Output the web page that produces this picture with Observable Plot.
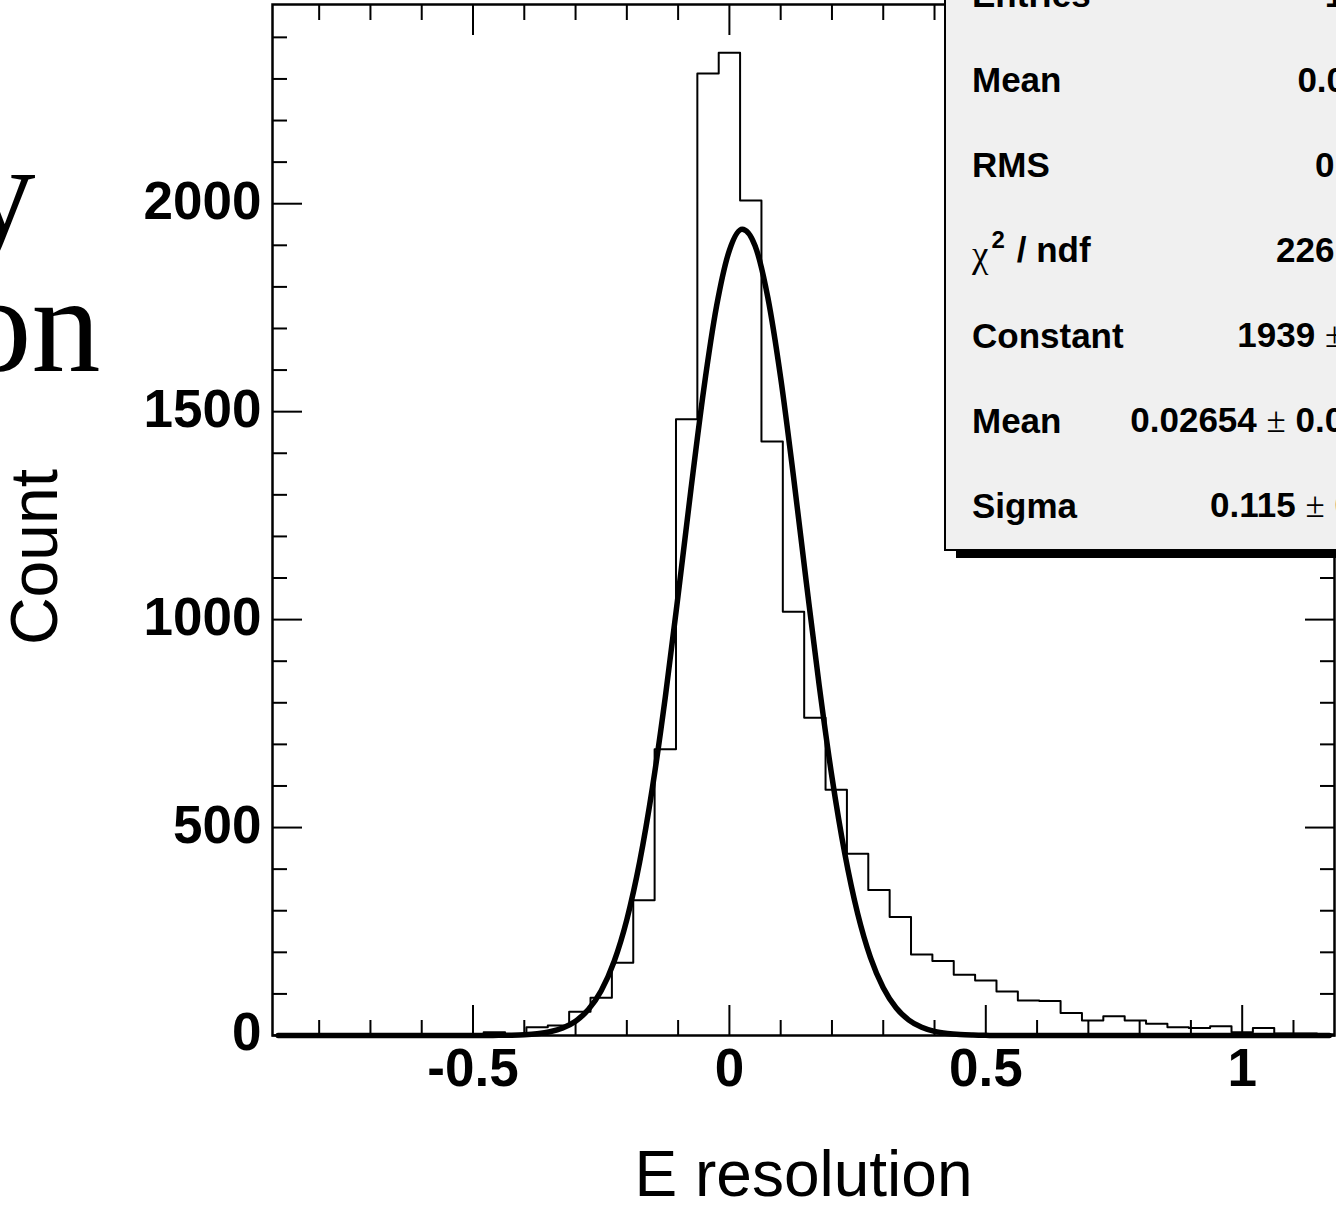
<!DOCTYPE html>
<html>
<head>
<meta charset="utf-8">
<script src="https://cdn.jsdelivr.net/npm/d3@7"></script>
<script src="https://cdn.jsdelivr.net/npm/@observablehq/plot@0.6"></script>
<style>
  html, body { margin: 0; padding: 0; background: #fff; overflow: hidden; }
  #wrap { position: relative; width: 1336px; height: 1205px; overflow: hidden; background: #fff; }
  #chart svg { display: block; }
  #stats {
    position: absolute; left: 944px; top: -47px; width: 492px; height: 598px;
    box-sizing: border-box; background: #f0f0f0; border: 2px solid #000;
    box-shadow: 12px 7px 0 0 #000;
    font-family: "Liberation Sans", Arial, sans-serif; font-weight: bold; font-size: 35px; color: #000;
  }
  .row-label, .row-value { position: absolute; line-height: 1; white-space: nowrap; transform: translateY(-50%); }
  .row-label { left: 26px; }
  .row-value { right: 12px; }
  .pm { font-family: "Liberation Serif", serif; font-weight: normal; }
  .chi { font-family: "Liberation Serif", serif; font-weight: normal; font-size: 37px; position: relative; top: 5px; }
  .sup { font-size: 24px; position: relative; top: -14px; margin-left: 3px; margin-right: 12px; }
</style>
</head>
<body>
<div id="wrap">
  <div id="chart"></div>
  <div id="stats"></div>
</div>
<script>
// ---------------- data ----------------
// histogram counts, bins of width 1/24 starting at lower edge -21.5/24
const binLow = -21.5 / 24;
const binWidth = 1 / 24;
const counts = [
  0, 0, 0, 0, 0, 0, 0, 0, 0, 0,
  8, 1, 20, 24, 57, 91, 175, 325, 688, 1482,
  2313, 2363, 2008, 1428, 1019, 764, 591, 437, 350, 285,
  195, 179, 146, 132, 106, 84, 83, 54, 36, 46,
  36, 28, 20, 18, 22, 8, 18, 5, 5, 3
];

// gaussian fit curve
const fitX = [-0.88, -0.5, -0.475, -0.45, -0.425, -0.4, -0.375, -0.35, -0.325, -0.3, -0.275, -0.25,
  -0.225, -0.2, -0.175, -0.15, -0.125, -0.1, -0.075, -0.05, -0.025, 0, 0.025, 0.05, 0.075, 0.1,
  0.125, 0.15, 0.175, 0.2, 0.225, 0.25, 0.275, 0.3, 0.325, 0.35, 0.375, 0.4, 0.425, 0.45, 0.475,
  0.5, 0.525, 1.17];
const fitY = [0, 0, 0.14, 0.36, 0.87, 2.0, 4.4, 9.1, 18.1, 34.4, 62.3, 107.6,
  177.3, 278.7, 417.5, 596.8, 813.8, 1058.5, 1313.1, 1553.7, 1753.8, 1888.0, 1938.8, 1899.1, 1774.2, 1581.3,
  1343.9, 1089.7, 842.7, 621.6, 437.4, 293.6, 187.9, 114.8, 66.8, 37.1, 19.7, 9.9, 4.8, 2.2, 1.0,
  0.4, 0.15, 0];

// axis ticks
const xDomain = [-0.891, 1.18];
const yDomain = [0, 2479];
const xMajor = [-0.5, 0, 0.5, 1];
const xMinor = [-0.8, -0.7, -0.6, -0.4, -0.3, -0.2, -0.1, 0.1, 0.2, 0.3, 0.4, 0.6, 0.7, 0.8, 0.9, 1.1];
const yMajor = [0, 500, 1000, 1500, 2000];
const yMinor = [100, 200, 300, 400, 600, 700, 800, 900, 1100, 1200, 1300, 1400,
  1600, 1700, 1800, 1900, 2100, 2200, 2300, 2400];

// text
const xTitle = "E resolution";
const yTitle = "Count";
const bigTitle = ["Energy", "resolution"];
const statLabels = ["Entries", "Mean", "RMS", "chi2 / ndf", "Constant", "Mean", "Sigma"];
const statValues = ["15654", "0.07116", "0.1898", "2261 / 47", "1939 ± 18.9", "0.02654 ± 0.00087", "0.115 ± 0.001"];

// ---------------- chart ----------------
const histPts = counts.map((c, i) => ({x: binLow + i * binWidth, y: c}));
histPts.push({x: binLow + counts.length * binWidth, y: counts[counts.length - 1]});
const fitPts = fitX.map((x, i) => ({x, y: fitY[i]}));

const tickStyle = {strokeWidth: 2, fill: "none", label: null};
const bold = {fontSize: 53, fontWeight: "bold", label: null, tickSize: 0};

const plot = Plot.plot({
  width: 1336,
  height: 1205,
  marginLeft: 272,
  marginRight: 2,
  marginTop: 4,
  marginBottom: 170,
  x: {domain: xDomain},
  y: {domain: yDomain},
  style: {fontFamily: "'Liberation Sans', Arial, sans-serif", color: "black", background: "white"},
  marks: [
    Plot.line(histPts, {x: "x", y: "y", curve: "step-after", stroke: "black", strokeWidth: 2, clip: true}),
    // inward ticks on all four sides
    Plot.axisY(yMajor, {anchor: "left", tickSize: -30, ...tickStyle}),
    Plot.axisY(yMinor, {anchor: "left", tickSize: -15, ...tickStyle}),
    Plot.axisY(yMajor, {anchor: "right", tickSize: -30, ...tickStyle}),
    Plot.axisY(yMinor, {anchor: "right", tickSize: -15, ...tickStyle}),
    Plot.axisX(xMajor, {anchor: "bottom", tickSize: -30, ...tickStyle}),
    Plot.axisX(xMinor, {anchor: "bottom", tickSize: -15, ...tickStyle}),
    Plot.axisX(xMajor, {anchor: "top", tickSize: -30, ...tickStyle}),
    Plot.axisX(xMinor, {anchor: "top", tickSize: -15, ...tickStyle}),
    // tick labels
    Plot.axisY(yMajor, {anchor: "left", tickPadding: 11, dy: -2, tickFormat: d => String(d), ...bold}),
    Plot.axisX(xMajor, {anchor: "bottom", tickPadding: 13, tickFormat: d => String(d), ...bold}),
    Plot.frame({stroke: "black", strokeWidth: 2.5}),
    Plot.line(fitPts, {x: "x", y: "y", curve: "monotone-x", stroke: "black", strokeWidth: 5.5, strokeLinejoin: "round"}),
    // axis titles
    Plot.text([xTitle], {frameAnchor: "bottom", textAnchor: "middle", lineAnchor: "bottom", dy: 160, fontSize: 64, text: d => d}),
    Plot.text([yTitle], {frameAnchor: "left", textAnchor: "middle", rotate: -90, lineAnchor: "bottom", dx: -216, dy: 37, fontSize: 66, text: d => d}),
    // large serif title, mostly outside the picture on the left
    Plot.text([bigTitle[0]], {frameAnchor: "top-left", textAnchor: "end", lineAnchor: "bottom", dx: -237, dy: 234,
      fontFamily: "'Liberation Serif', serif", fontSize: 138, text: d => d}),
    Plot.text([bigTitle[1]], {frameAnchor: "top-left", textAnchor: "end", lineAnchor: "bottom", dx: -172, dy: 366,
      fontFamily: "'Liberation Serif', serif", fontSize: 138, text: d => d})
  ]
});
document.getElementById("chart").appendChild(plot);

// ---------------- stats box ----------------
const stats = document.getElementById("stats");
const boxTop = -47;
function fmtLabel(s) {
  if (s === "chi2 / ndf") return '<span class="chi">χ</span><span class="sup">2</span>/ ndf';
  return s;
}
function fmtValue(s) {
  return s.replace("±", '<span class="pm">±</span>');
}
statLabels.forEach((lab, i) => {
  const center = 79 + 85.2 * (i - 1) - boxTop - 2;
  const l = document.createElement("div");
  l.className = "row-label";
  l.style.top = center + "px";
  l.innerHTML = fmtLabel(lab);
  stats.appendChild(l);
  const v = document.createElement("div");
  v.className = "row-value";
  v.style.top = center + "px";
  v.innerHTML = fmtValue(statValues[i]);
  stats.appendChild(v);
});
</script>
</body>
</html>
